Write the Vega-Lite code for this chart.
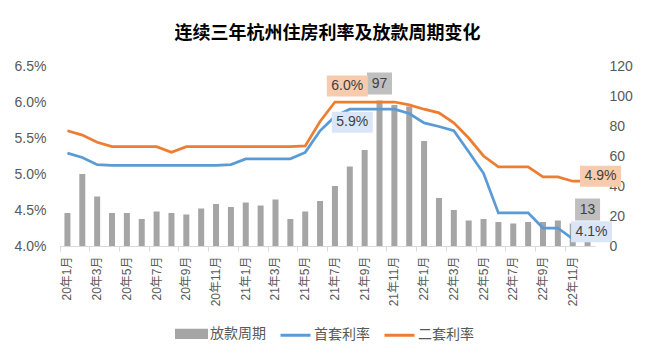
{
  "$schema": "https://vega.github.io/schema/vega-lite/v6.json",
  "width": 535,
  "height": 180,
  "autosize": {"type": "none"},
  "padding": {"left": 60, "top": 66, "right": 53, "bottom": 116},
  "background": "white",
  "config": {
    "font": "Liberation Sans, Noto Sans CJK SC, sans-serif",
    "view": {"stroke": null},
    "axis": {"grid": false, "labelColor": "#595959", "domain": false, "ticks": false, "title": null}
  },
  "title": {
    "text": "连续三年杭州住房利率及放款周期变化",
    "fontSize": 18,
    "fontWeight": "bold",
    "font": "Noto Sans CJK SC",
    "color": "#000000",
    "offset": 16,
    "anchor": "middle"
  },
  "data": {
    "values": [
      {"月份": "20年1月", "放款周期": 22, "首套利率": 0.0529, "二套利率": 0.0560},
      {"月份": "20年2月", "放款周期": 48, "首套利率": 0.0523, "二套利率": 0.0554},
      {"月份": "20年3月", "放款周期": 33, "首套利率": 0.0513, "二套利率": 0.0544},
      {"月份": "20年4月", "放款周期": 22, "首套利率": 0.0512, "二套利率": 0.0538},
      {"月份": "20年5月", "放款周期": 22, "首套利率": 0.0512, "二套利率": 0.0538},
      {"月份": "20年6月", "放款周期": 18, "首套利率": 0.0512, "二套利率": 0.0538},
      {"月份": "20年7月", "放款周期": 23, "首套利率": 0.0512, "二套利率": 0.0538},
      {"月份": "20年8月", "放款周期": 22, "首套利率": 0.0512, "二套利率": 0.0530},
      {"月份": "20年9月", "放款周期": 21, "首套利率": 0.0512, "二套利率": 0.0538},
      {"月份": "20年10月", "放款周期": 25, "首套利率": 0.0512, "二套利率": 0.0538},
      {"月份": "20年11月", "放款周期": 28, "首套利率": 0.0512, "二套利率": 0.0538},
      {"月份": "20年12月", "放款周期": 26, "首套利率": 0.0513, "二套利率": 0.0538},
      {"月份": "21年1月", "放款周期": 29, "首套利率": 0.0521, "二套利率": 0.0538},
      {"月份": "21年2月", "放款周期": 27, "首套利率": 0.0521, "二套利率": 0.0538},
      {"月份": "21年3月", "放款周期": 31, "首套利率": 0.0521, "二套利率": 0.0538},
      {"月份": "21年4月", "放款周期": 18, "首套利率": 0.0521, "二套利率": 0.0538},
      {"月份": "21年5月", "放款周期": 23, "首套利率": 0.0530, "二套利率": 0.0539},
      {"月份": "21年6月", "放款周期": 30, "首套利率": 0.0560, "二套利率": 0.0573},
      {"月份": "21年7月", "放款周期": 40, "首套利率": 0.0580, "二套利率": 0.0600},
      {"月份": "21年8月", "放款周期": 53, "首套利率": 0.0590, "二套利率": 0.0600},
      {"月份": "21年9月", "放款周期": 64, "首套利率": 0.0590, "二套利率": 0.0600},
      {"月份": "21年10月", "放款周期": 97, "首套利率": 0.0590, "二套利率": 0.0600},
      {"月份": "21年11月", "放款周期": 94, "首套利率": 0.0590, "二套利率": 0.0600},
      {"月份": "21年12月", "放款周期": 93, "首套利率": 0.0584, "二套利率": 0.0596},
      {"月份": "22年1月", "放款周期": 70, "首套利率": 0.0571, "二套利率": 0.0590},
      {"月份": "22年2月", "放款周期": 32, "首套利率": 0.0566, "二套利率": 0.0585},
      {"月份": "22年3月", "放款周期": 24, "首套利率": 0.0560, "二套利率": 0.0571},
      {"月份": "22年4月", "放款周期": 17, "首套利率": 0.0531, "二套利率": 0.0550},
      {"月份": "22年5月", "放款周期": 18, "首套利率": 0.0501, "二套利率": 0.0525},
      {"月份": "22年6月", "放款周期": 16, "首套利率": 0.0446, "二套利率": 0.0510},
      {"月份": "22年7月", "放款周期": 15, "首套利率": 0.0446, "二套利率": 0.0510},
      {"月份": "22年8月", "放款周期": 16, "首套利率": 0.0446, "二套利率": 0.0510},
      {"月份": "22年9月", "放款周期": 16, "首套利率": 0.0425, "二套利率": 0.0496},
      {"月份": "22年10月", "放款周期": 17, "首套利率": 0.0425, "二套利率": 0.0496},
      {"月份": "22年11月", "放款周期": 15, "首套利率": 0.0410, "二套利率": 0.0490},
      {"月份": "22年12月", "放款周期": 13, "首套利率": 0.0410, "二套利率": 0.0490}
    ]
  },
  "layer": [
    {
      "encoding": {
        "x": {
          "field": "月份", "type": "ordinal", "sort": null,
          "scale": {"paddingInner": 0, "paddingOuter": 0},
          "axis": {
            "orient": "bottom",
            "values": ["20年1月","20年3月","20年5月","20年7月","20年9月","20年11月","21年1月","21年3月","21年5月","21年7月","21年9月","21年11月","22年1月","22年3月","22年5月","22年7月","22年9月","22年11月"],
            "labelAngle": 270, "labelFontSize": 12, "labelPadding": 10, "ticks": false, "domain": false, "labelColor": "#595959"
          }
        },
        "y": {
          "field": "放款周期", "type": "quantitative",
          "scale": {"domain": [0, 120], "nice": false},
          "axis": {"orient": "right", "values": [0, 20, 40, 60, 80, 100, 120], "labelFontSize": 14, "labelPadding": 14, "labelAlign": "left", "labelColor": "#595959", "labelOverlap": false}
        }
      },
      "layer": [
        {
          "mark": {"type": "bar", "size": 6},
          "encoding": {
            "color": {
              "datum": "放款周期",
              "scale": {"domain": ["放款周期", "首套利率", "二套利率"], "range": ["#A5A5A5", "#5B9BD5", "#ED7D31"]},
              "legend": {
                "orient": "none", "legendX": 115, "legendY": 251,
                "direction": "horizontal", "title": null,
                "labelFontSize": 14, "labelColor": "#595959", "symbolSize": 900,
                "columnPadding": 8, "labelOffset": 2,
                "encode": {
                  "symbols": {
                    "update": {
                      "shape": {"signal": "datum.value === '放款周期' ? 'M-1,-0.24H1V0.24H-1Z' : 'M-1,0H1'"},
                      "fill": {"signal": "datum.value === '放款周期' ? '#A5A5A5' : 'transparent'"},
                      "stroke": {"signal": "datum.value === '首套利率' ? '#5B9BD5' : (datum.value === '二套利率' ? '#ED7D31' : 'transparent')"},
                      "strokeWidth": {"value": 3},
                      "opacity": {"value": 1}
                    }
                  }
                }
              }
            }
          }
        },
        {
          "transform": [{"filter": {"field": "月份", "oneOf": ["21年10月", "22年12月"]}}],
          "mark": {"type": "point", "shape": "M-1,-0.88H1V0.88H-1Z", "size": 625, "filled": true, "opacity": 1, "color": "#BFBFBF", "strokeWidth": 0, "yOffset": -17}
        },
        {
          "transform": [{"filter": {"field": "月份", "oneOf": ["21年10月", "22年12月"]}}],
          "mark": {"type": "text", "fontSize": 14, "color": "#404040", "yOffset": -17},
          "encoding": {"text": {"field": "放款周期", "type": "quantitative"}}
        }
      ]
    },
    {
      "encoding": {
        "x": {
          "field": "月份", "type": "ordinal", "sort": null,
          "axis": {
            "orient": "bottom",
            "values": ["20年1月","20年3月","20年5月","20年7月","20年9月","20年11月","21年1月","21年3月","21年5月","21年7月","21年9月","21年11月","22年1月","22年3月","22年5月","22年7月","22年9月","22年11月"],
            "bandPosition": 0, "labels": false, "ticks": true, "tickSize": 5, "tickColor": "#D9D9D9", "domain": true, "domainColor": "#D9D9D9"
          }
        },
        "y": {
          "field": "首套利率", "type": "quantitative",
          "scale": {"domain": [0.04, 0.065], "zero": false, "nice": false},
          "axis": {"orient": "left", "format": ".1%", "values": [0.04, 0.045, 0.05, 0.055, 0.06, 0.065], "labelFontSize": 14, "labelPadding": 14, "labelColor": "#595959", "labelOverlap": false}
        }
      },
      "layer": [
        {
          "mark": {"type": "line", "strokeWidth": 2.75},
          "encoding": {"color": {"datum": "首套利率"}}
        },
        {
          "mark": {"type": "line", "strokeWidth": 2.75},
          "encoding": {
            "y": {"field": "二套利率", "type": "quantitative"},
            "color": {"datum": "二套利率"}
          }
        },
        {
          "transform": [{"filter": {"field": "月份", "equal": "21年8月"}}],
          "mark": {"type": "point", "shape": "M-1,-0.51H1V0.51H-1Z", "size": 1681, "filled": true, "opacity": 1, "color": "#DAE6F8", "strokeWidth": 0, "xOffset": 2.5, "yOffset": 13}
        },
        {
          "transform": [{"filter": {"field": "月份", "equal": "21年8月"}}],
          "mark": {"type": "text", "fontSize": 14, "color": "#404040", "xOffset": 2.5, "yOffset": 13},
          "encoding": {"text": {"field": "首套利率", "type": "quantitative", "format": ".1%"}}
        },
        {
          "transform": [{"filter": {"field": "月份", "equal": "21年8月"}}],
          "mark": {"type": "point", "shape": "M-1,-0.51H1V0.51H-1Z", "size": 1681, "filled": true, "opacity": 1, "color": "#F8CBAD", "strokeWidth": 0, "xOffset": -2.5, "yOffset": -16},
          "encoding": {"y": {"field": "二套利率", "type": "quantitative"}}
        },
        {
          "transform": [{"filter": {"field": "月份", "equal": "21年8月"}}],
          "mark": {"type": "text", "fontSize": 14, "color": "#404040", "xOffset": -2.5, "yOffset": -16},
          "encoding": {"y": {"field": "二套利率", "type": "quantitative"}, "text": {"field": "二套利率", "type": "quantitative", "format": ".1%"}}
        },
        {
          "transform": [{"filter": {"field": "月份", "equal": "22年12月"}}],
          "mark": {"type": "point", "shape": "M-1,-0.51H1V0.51H-1Z", "size": 1681, "filled": true, "opacity": 1, "color": "#F8CBAD", "strokeWidth": 0, "xOffset": 13, "yOffset": -5},
          "encoding": {"y": {"field": "二套利率", "type": "quantitative"}}
        },
        {
          "transform": [{"filter": {"field": "月份", "equal": "22年12月"}}],
          "mark": {"type": "text", "fontSize": 14, "color": "#404040", "xOffset": 13, "yOffset": -5},
          "encoding": {"y": {"field": "二套利率", "type": "quantitative"}, "text": {"field": "二套利率", "type": "quantitative", "format": ".1%"}}
        },
        {
          "transform": [{"filter": {"field": "月份", "equal": "22年12月"}}],
          "mark": {"type": "point", "shape": "M-1,-0.51H1V0.51H-1Z", "size": 1681, "filled": true, "opacity": 1, "color": "#DAE6F8", "strokeWidth": 0, "xOffset": 4, "yOffset": -7}
        },
        {
          "transform": [{"filter": {"field": "月份", "equal": "22年12月"}}],
          "mark": {"type": "text", "fontSize": 14, "color": "#404040", "xOffset": 4, "yOffset": -7},
          "encoding": {"text": {"field": "首套利率", "type": "quantitative", "format": ".1%"}}
        }
      ]
    }
  ],
  "resolve": {"scale": {"y": "independent"}, "axis": {"x": "independent"}}
}
